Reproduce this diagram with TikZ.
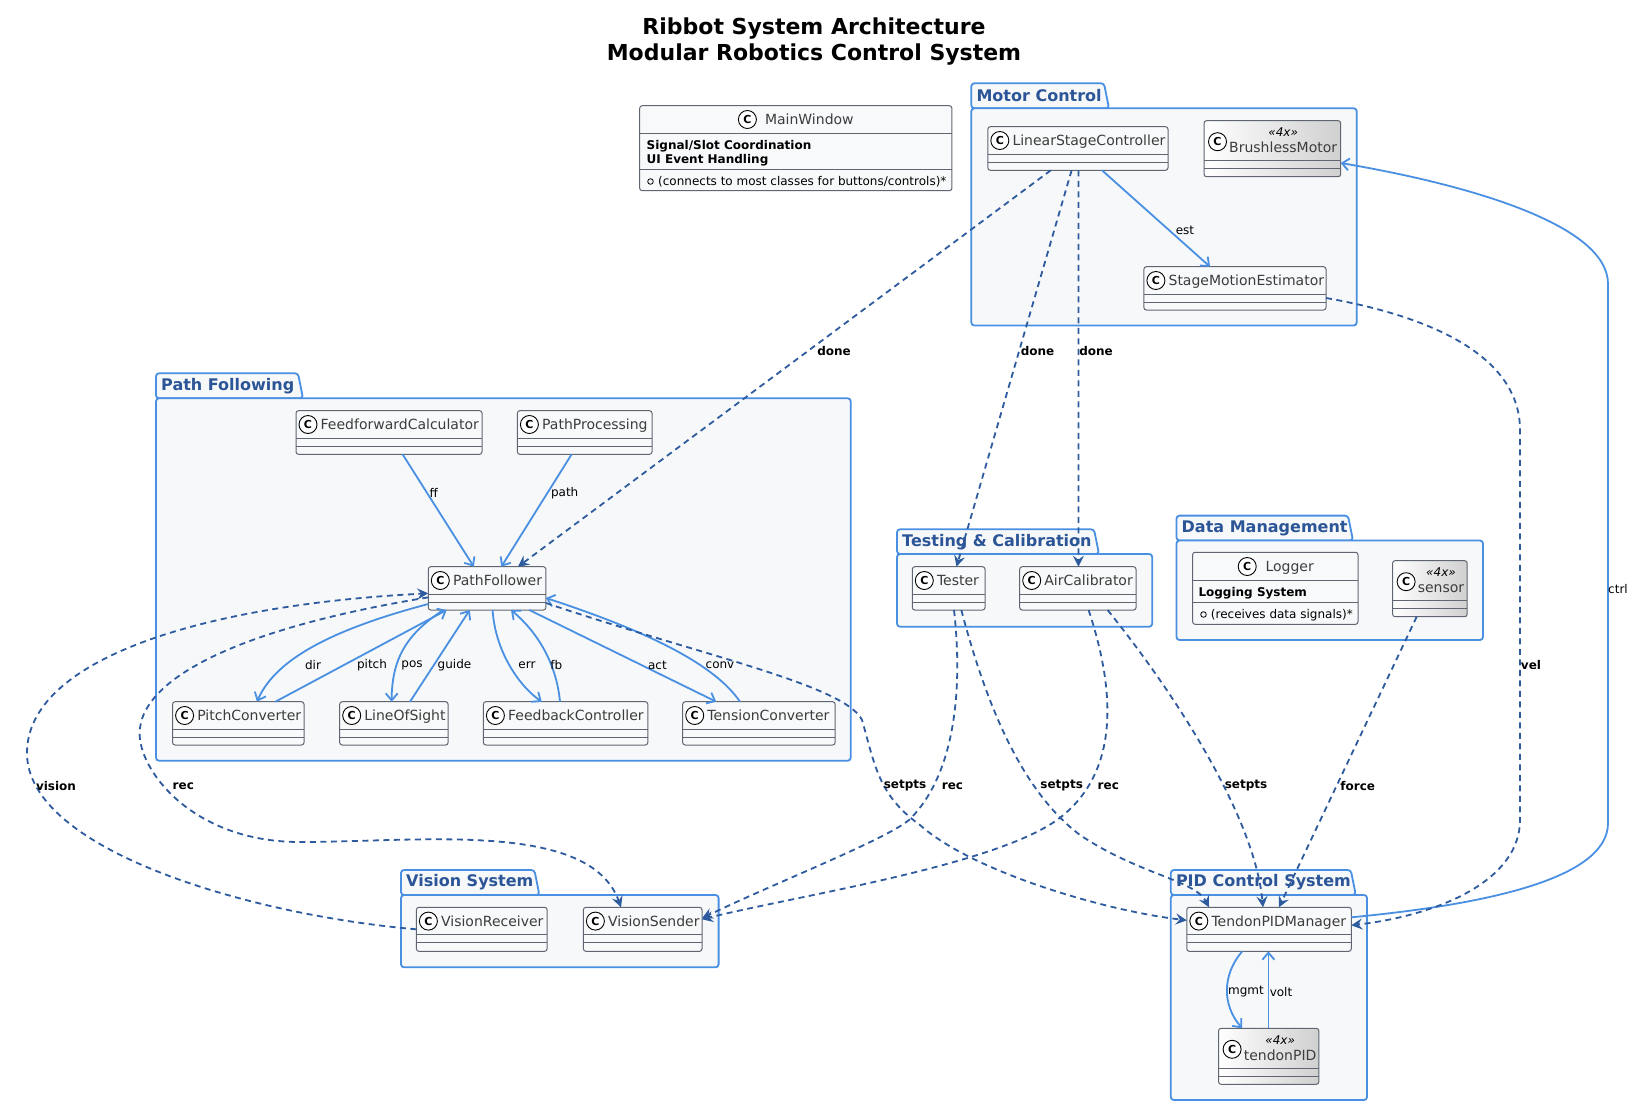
\documentclass[tikz,border=0pt]{standalone}
\usepackage{fontspec}
\setmainfont{DejaVu Sans}
\usetikzlibrary{arrows.meta,fit,calc}
\definecolor{solidc}{HTML}{4A90E2}
\definecolor{dashc}{HTML}{2D5B9E}
\definecolor{pkgborder}{HTML}{4A90E2}
\definecolor{pkgfill}{HTML}{F6F8FA}
\definecolor{pkgtitle}{HTML}{2B5597}
\definecolor{clsfill}{HTML}{F8F9FA}
\definecolor{clsline}{HTML}{5F6672}
\definecolor{clstext}{HTML}{3C3C3C}
\definecolor{gradend}{HTML}{D0D0D0}
\tikzset{
  cbox/.style={draw=clsline, line width=1pt, fill=clsfill, rounded corners=2.5pt, inner sep=0pt, outer sep=0pt},
  gbox/.style={draw=clsline, line width=1pt, left color=white, right color=gradend, rounded corners=2.5pt, inner sep=0pt, outer sep=0pt},
  cline/.style={draw=clsline, line width=1pt},
  cicon/.style={circle, draw=black, line width=0.9pt, fill=white, minimum size=18pt, inner sep=0pt, font=\fontsize{11}{11}\selectfont\bfseries},
  cname/.style={inner sep=0pt, text=clstext, font=\fontsize{14}{16}\selectfont},
  cbody/.style={inner sep=0pt, text=black, font=\fontsize{12}{14}\selectfont\bfseries},
  cmeth/.style={inner sep=0pt, text=black, font=\fontsize{12}{14}\selectfont},
  stereo/.style={inner sep=0pt, text=black, font=\fontsize{12}{14}\selectfont\itshape},
  pkg/.style={draw=pkgborder, fill=pkgfill, line width=1.8pt, rounded corners=3pt},
  pkgt/.style={inner sep=0pt, text=pkgtitle, font=\fontsize{16}{18}\selectfont\bfseries},
  elbl/.style={inner sep=0pt, text=black, font=\fontsize{12}{14}\selectfont},
  blbl/.style={inner sep=0pt, text=black, font=\fontsize{12}{14}\selectfont\bfseries},
  sedge/.style={draw=solidc, line width=1.8pt, -{Straight Barb[length=7pt, width=12pt]}},
  dedge/.style={draw=dashc, line width=1.8pt, dash pattern=on 6pt off 4.5pt, -{Stealth[length=11pt, width=11pt, inset=4pt]}}
}
\newcommand\upkg[8]{%
  \filldraw[pkg] (#2,#5) -- (#2,#3) -- ({#4-5},#3) -- (#4,#5) -- cycle;
  \filldraw[pkg] (#2,#5) rectangle (#6,#7);
  \node[pkgt, anchor=west] (#1) at ({#2+5},{(#3+#5)/2}) {#8};
}
\newcommand\uclass[6]{%
  \node[cbox, fit={(#2,#3)(#4,#5)}] (#1) {};
  \draw[cline] ([yshift=-27.6pt]#1.north west) -- ([yshift=-27.6pt]#1.north east);
  \draw[cline] ([yshift=-35.6pt]#1.north west) -- ([yshift=-35.6pt]#1.north east);
  \node[cicon] (#1-i) at ([xshift=12pt,yshift=-13.8pt]#1.north west) {C};
  \node[cname, anchor=base west] (#1-t) at ([xshift=24.5pt,yshift=-19pt]#1.north west) {#6};
}
\newcommand\sclass[6]{%
  \node[gbox, fit={(#2,#3)(#4,#5)}] (#1) {};
  \draw[cline] ([yshift=-40pt]#1.north west) -- ([yshift=-40pt]#1.north east);
  \draw[cline] ([yshift=-48pt]#1.north west) -- ([yshift=-48pt]#1.north east);
  \node[cicon] (#1-i) at ([xshift=13.5pt,yshift=-21pt]#1.north west) {C};
  \node[cname, anchor=base west] (#1-t) at ([xshift=25pt,yshift=-31.8pt]#1.north west) {#6};
  \node[stereo, anchor=base] (#1-s) at ([yshift=15.8pt]#1-t.base) {«4x»};
}
\begin{document}
\begin{tikzpicture}[x=1pt,y=-1pt]
\useasboundingbox (0,0) rectangle (1635,1106);
\fill[white] (0,0) rectangle (1635,1106);

\node[font=\fontsize{22}{26}\selectfont\bfseries, align=center, inner sep=0pt] (title) at (814,42)
  {Ribbot System Architecture\\Modular Robotics Control System};

% packages
\upkg{pkgmc}{971.3}{83.3}{1109}{108.3}{1356.7}{325.5}{Motor Control}
\upkg{pkgpf}{156}{373.3}{303}{398.3}{850.7}{760.7}{Path Following}
\upkg{pkgtc}{897}{529.3}{1099}{554}{1152.2}{626.7}{Testing \& Calibration}
\upkg{pkgdm}{1176.5}{515.6}{1353}{540.5}{1483}{640}{Data Management}
\upkg{pkgvs}{401}{870}{539.4}{895}{718.6}{967.3}{Vision System}
\upkg{pkgpid}{1170.8}{870}{1355.8}{895}{1367}{1100}{PID Control System}

% MainWindow
\node[cbox, fit={(639.7,105.7)(951.9,190.7)}] (mw) {};
\draw[cline] ([yshift=-27.6pt]mw.north west) -- ([yshift=-27.6pt]mw.north east);
\draw[cline] ([yshift=-63.6pt]mw.north west) -- ([yshift=-63.6pt]mw.north east);
\node[cicon] (mw-i) at (747.4,119.5) {C};
\node[cname, anchor=base west] (mw-t) at (764.8,124.6) {MainWindow};
\node[cbody, anchor=base west] (mw-b1) at (646.5,149.5) {Signal/Slot Coordination};
\node[cbody, anchor=base west] (mw-b2) at (646.5,163.2) {UI Event Handling};
\node[circle, draw=black, line width=0.8pt, minimum size=5.6pt, inner sep=0pt] (mw-mi) at (650.5,181.5) {};
\node[cmeth, anchor=base west] (mw-m) at (658,185.5) {(connects to most classes for buttons/controls)*};

% Logger
\node[cbox, fit={(1192.6,552.3)(1358,624.3)}] (lg) {};
\draw[cline] ([yshift=-28.4pt]lg.north west) -- ([yshift=-28.4pt]lg.north east);
\draw[cline] ([yshift=-50pt]lg.north west) -- ([yshift=-50pt]lg.north east);
\node[cicon] (lg-i) at (1247.2,566.5) {C};
\node[cname, anchor=base west] (lg-t) at (1265.3,571.6) {Logger};
\node[cbody, anchor=base west] (lg-b1) at (1198.3,596) {Logging System};
\node[circle, draw=black, line width=0.8pt, minimum size=5.6pt, inner sep=0pt] (lg-mi) at (1203.5,614.5) {};
\node[cmeth, anchor=base west] (lg-m) at (1210.7,618.3) {(receives data signals)*};

% classes
\uclass{lsc}{987.8}{126.7}{1168}{170.3}{LinearStageController}
\sclass{bm}{1204}{120.7}{1340.7}{176.7}{BrushlessMotor}
\uclass{sme}{1143.9}{266.7}{1326}{310}{StageMotionEstimator}
\uclass{ffc}{296}{410.7}{482}{454.3}{FeedforwardCalculator}
\uclass{pp}{517.4}{410.7}{652}{454.3}{PathProcessing}
\uclass{pf}{428.3}{566.7}{545.9}{610}{PathFollower}
\uclass{pc}{172.6}{701.7}{304}{745}{PitchConverter}
\uclass{los}{339.7}{701.7}{448.1}{745}{LineOfSight}
\uclass{fbc}{483.4}{701.7}{647.8}{745}{FeedbackController}
\uclass{tc}{682.7}{701.7}{835.1}{745}{TensionConverter}
\uclass{tester}{912.3}{566.7}{985}{610}{Tester}
\uclass{ac}{1019.7}{566.7}{1136}{610}{AirCalibrator}
\sclass{sensor}{1392.6}{560.7}{1467.2}{616.7}{sensor}
\uclass{vr}{416.4}{907.3}{547.1}{951.3}{VisionReceiver}
\uclass{vs}{583.4}{907.3}{702}{951.3}{VisionSender}
\uclass{tpm}{1186.8}{907.3}{1351.3}{951.3}{TendonPIDManager}
\sclass{tpid}{1218.6}{1028.3}{1318.8}{1084.3}{tendonPID}

% solid edges
\draw[sedge] ([xshift=114.2pt]lsc.south west) -- ([xshift=66.1pt]sme.north west)
  node[elbl] (l-est) at (1185,230) {est};
\draw[sedge] ([yshift=34pt]tpm.south east) .. controls (1480,905) and (1608,880) .. (1608,823)
  -- (1608,284) .. controls (1608,225) and (1470,185) .. ([yshift=13.7pt]bm.south east)
  node[elbl] (l-ctrl) at (1618,589) {ctrl};
\draw[sedge] ([xshift=106.6pt]ffc.south west) -- ([xshift=45.5pt]pf.north west)
  node[elbl] (l-ff) at (433.8,492.7) {ff};
\draw[sedge] ([xshift=54.2pt]pp.south west) -- ([xshift=73pt]pf.north west)
  node[elbl] (l-path) at (564.7,492.7) {path};
\draw[sedge] ([yshift=6pt]pf.south west) .. controls (330,630) and (275,660) .. ([xshift=84.4pt]pc.north west)
  node[elbl] (l-dir) at (313,665) {dir};
\draw[sedge] ([xshift=102.8pt]pc.north west) -- ([xshift=18.4pt]pf.south west)
  node[elbl] (l-pitch) at (372,665) {pitch};
\draw[sedge] ([xshift=15pt]pf.south west) .. controls (405,635) and (392,660) .. ([xshift=51.9pt]los.north west)
  node[elbl] (l-pos) at (412,665) {pos};
\draw[sedge] ([xshift=70.3pt]los.north west) -- ([xshift=41.4pt]pf.south west)
  node[elbl] (l-guide) at (454.5,665) {guide};
\draw[sedge] ([xshift=64.3pt]pf.south west) .. controls (495,650) and (518,685) .. ([xshift=58.3pt]fbc.north west)
  node[elbl] (l-err) at (527,665) {err};
\draw[sedge] ([xshift=76.6pt]fbc.north west) .. controls (556,660) and (535,630) .. ([xshift=82.7pt]pf.south west)
  node[elbl] (l-fb) at (556.4,665) {fb};
\draw[sedge] ([xshift=101pt]pf.south west) -- ([xshift=33.5pt]tc.north west)
  node[elbl] (l-act) at (657.4,665) {act};
\draw[sedge] ([xshift=57.3pt]tc.north west) .. controls (715,665) and (650,632) .. ([yshift=12pt]pf.south east)
  node[elbl] (l-conv) at (720,665) {conv};
\draw[sedge] ([xshift=55.4pt]tpm.south west) .. controls (1222,975) and (1222,1005) .. ([xshift=23.6pt]tpid.north west)
  node[elbl] (l-mgmt) at (1246,991.7) {mgmt};
\draw[sedge] ([xshift=49.8pt]tpid.north west) -- ([xshift=81.6pt]tpm.south west)
  node[elbl] (l-volt) at (1281,991.7) {volt};

% dashed edges
\draw[dedge] ([xshift=63pt]lsc.south west) -- ([xshift=89.7pt]pf.north west)
  node[blbl] (l-done1) at (834,351.4) {done};
\draw[dedge] ([xshift=83.8pt]lsc.south west) -- ([xshift=44.2pt]tester.north west)
  node[blbl] (l-done2) at (1037.5,351.4) {done};
\draw[dedge] ([xshift=90.6pt]lsc.south west) -- ([xshift=58.7pt]ac.north west)
  node[blbl] (l-done3) at (1096,351.4) {done};
\draw[dedge] ([yshift=12pt]sme.south east) .. controls (1440,318) and (1520,360) .. (1520,430)
  -- (1520,820) .. controls (1520,880) and (1440,915) .. ([yshift=26pt]tpm.south east)
  node[blbl] (l-vel) at (1531,665) {vel};
\draw[dedge] (vr.west) .. controls (250,915) and (27,850) .. (27,753)
  .. controls (27,660) and (200,605) .. ([yshift=-5pt]pf.west)
  node[blbl] (l-vision) at (56,786) {vision};
\draw[dedge] ([yshift=-9pt]pf.west) .. controls (240,628) and (132,680) .. (140,740)
  .. controls (146,780) and (200,842) .. (300,842)
  .. controls (420,842) and (590,820) .. ([xshift=37.6pt]vs.north west)
  node[blbl] (l-rec1) at (183.3,786) {rec};
\draw[dedge] ([yshift=7pt]pf.south east) .. controls (700,655) and (845,685) .. (862,720)
  .. controls (875,765) and (878,795) .. (920,825)
  .. controls (970,870) and (1100,910) .. ([yshift=9pt]tpm.west)
  node[blbl] (l-setpts1) at (905,786) {setpts};
\draw[dedge] ([xshift=41.7pt]tester.south west) .. controls (963,690) and (955,775) .. (909,820)
  .. controls (885,840) and (770,885) .. ([yshift=11pt]vs.east)
  node[blbl] (l-rec2) at (952.5,786) {rec};
\draw[dedge] ([xshift=49pt]tester.south west) .. controls (985,700) and (1020,790) .. (1080,835)
  .. controls (1140,875) and (1195,880) .. ([xshift=22.2pt]tpm.north west)
  node[blbl] (l-setpts2) at (1061.7,786) {setpts};
\draw[dedge] ([xshift=68.9pt]ac.south west) .. controls (1115,690) and (1120,770) .. (1061,817)
  .. controls (1000,865) and (800,895) .. ([yshift=10pt]vs.east)
  node[blbl] (l-rec3) at (1108.3,786) {rec};
\draw[dedge] ([xshift=87.9pt]ac.south west) .. controls (1180,700) and (1255,820) .. ([xshift=76.2pt]tpm.north west)
  node[blbl] (l-setpts3) at (1246,786) {setpts};
\draw[dedge] ([xshift=24.1pt]sensor.south west) -- ([xshift=92.2pt]tpm.north west)
  node[blbl] (l-force) at (1357.7,786) {force};
\end{tikzpicture}
\end{document}
